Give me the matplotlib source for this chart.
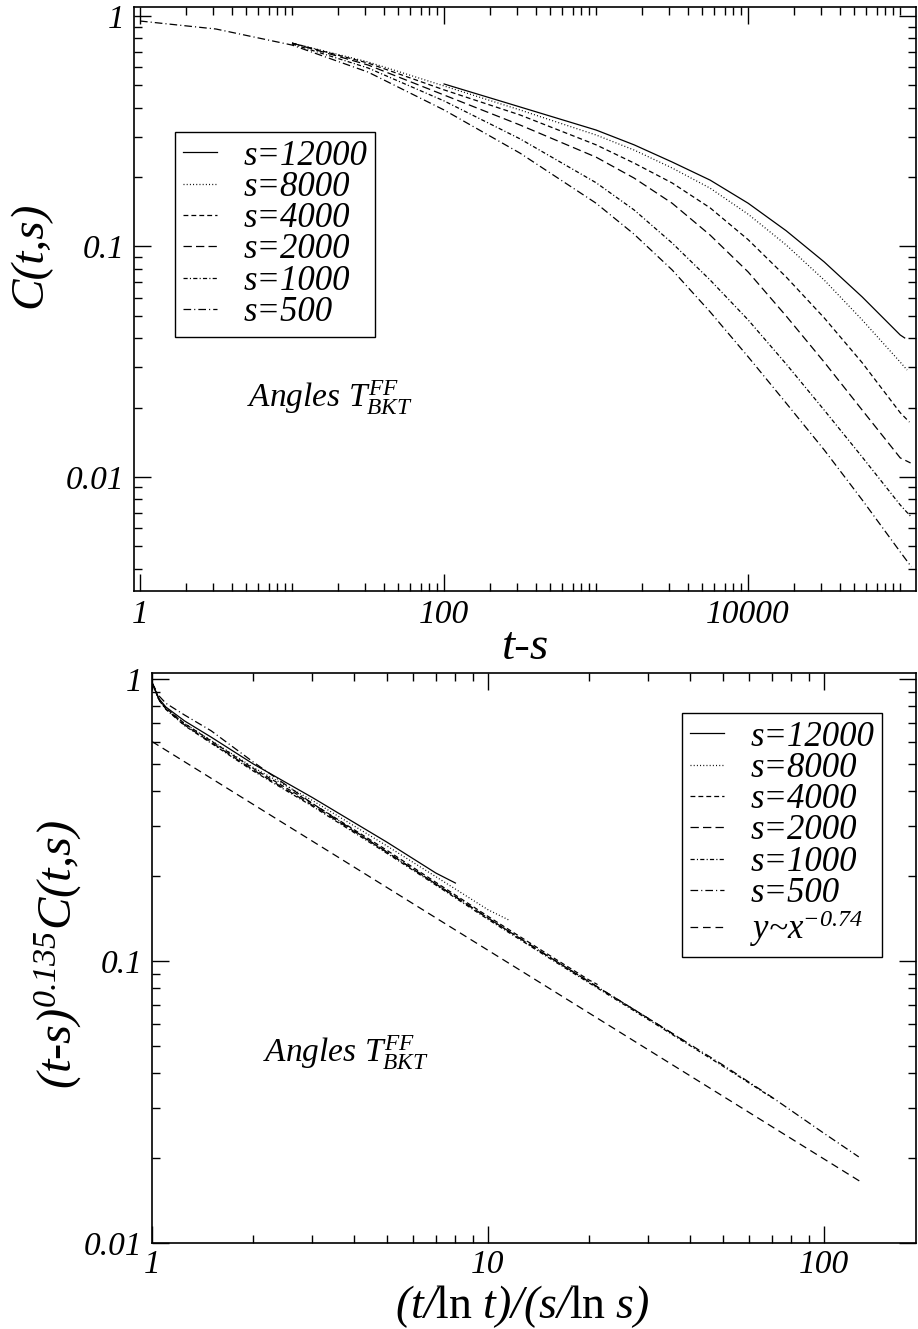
import numpy as np
import matplotlib
matplotlib.use('Agg')
import matplotlib.pyplot as plt
from matplotlib.ticker import FixedLocator, FuncFormatter, NullFormatter

plt.rcParams['font.family'] = ['Liberation Serif', 'DejaVu Serif']
plt.rcParams['font.style'] = 'italic'
plt.rcParams['mathtext.fontset'] = 'custom'
plt.rcParams['mathtext.it'] = 'Liberation Serif:style=italic'
plt.rcParams['mathtext.rm'] = 'Liberation Serif:style=italic'
# upright face only for "ln"
plt.rcParams['mathtext.sf'] = 'Liberation Serif:style=normal'
plt.rcParams['mathtext.default'] = 'it'
plt.rcParams['lines.scale_dashes'] = False

# ---- top panel: C(t,s) vs t-s ----
s_values = [12000, 8000, 4000, 2000, 1000, 500]

tms_500 = [1, 3.16, 10, 31.6, 100, 316, 1000, 1778, 3162, 5623, 10000, 17783, 31623, 56234, 100000, 118500]
c_500 = [0.951, 0.878, 0.748, 0.571, 0.391, 0.254, 0.154, 0.113, 0.0791, 0.052, 0.0332, 0.0209, 0.0131, 0.00795, 0.00473, 0.00407]

tms_mid = [10, 31.6, 100, 316, 1000, 1778, 3162, 5623, 10000, 17783, 31623, 56234, 100000]
c_1000 = [0.756, 0.595, 0.428, 0.293, 0.189, 0.144, 0.1035, 0.0715, 0.048, 0.0309, 0.0195, 0.0122, 0.00756, 0.00671]
c_2000 = [0.763, 0.613, 0.454, 0.3365, 0.244, 0.198, 0.154, 0.112, 0.0775, 0.0499, 0.0315, 0.0195, 0.0121, 0.0115]
c_4000 = [0.763, 0.625, 0.478, 0.372, 0.276, 0.230, 0.1886, 0.147, 0.107, 0.0737, 0.049, 0.0313, 0.019, 0.0173]
c_8000 = [0.763, 0.632, 0.497, 0.391, 0.3045, 0.262, 0.219, 0.179, 0.138, 0.1015, 0.0715, 0.048, 0.0315, 0.0291]
end_tms = {1000: 118000, 2000: 117000, 4000: 115000, 8000: 111000}

tms_12000 = [100, 316, 1000, 1778, 3162, 5623, 10000, 17783, 31623, 56234, 100000, 107000]
c_12000 = [0.507, 0.403, 0.320, 0.276, 0.2325, 0.194, 0.154, 0.117, 0.0857, 0.0604, 0.0413, 0.0401]

# ---- bottom panel: (t-s)^0.135 C(t,s) vs (t/ln t)/(s/ln s) ----
xs_grid = [1, 1.05, 1.1, 1.25, 1.5, 2, 3, 5, 7, 10, 15, 20, 30, 50, 70, 100]
sc_500 = [0.97, 0.87, 0.82, 0.745, 0.655, 0.508, 0.362, 0.2434, 0.1875, 0.142, 0.1045, 0.0844, 0.0626, 0.0428, 0.0329, 0.0245, 0.0202]
sc_1000 = [0.97, 0.84, 0.78, 0.683, 0.592, 0.472, 0.354, 0.241, 0.1858, 0.1405, 0.1035, 0.0836, 0.062, 0.0424, 0.0326]
sc_2000 = [0.97, 0.842, 0.783, 0.687, 0.596, 0.476, 0.357, 0.2434, 0.1875, 0.142, 0.1045, 0.0844, 0.0626, 0.0516]
sc_4000 = [0.97, 0.845, 0.788, 0.695, 0.603, 0.482, 0.362, 0.247, 0.190, 0.144, 0.106, 0.0856, 0.0825]
sc_8000 = [0.97, 0.845, 0.787, 0.695, 0.605, 0.486, 0.371, 0.256, 0.199, 0.152, 0.140]
sc_12000 = [0.97, 0.85, 0.795, 0.71, 0.622, 0.50, 0.38, 0.264, 0.205, 0.189]
end_xs = {500: 127, 1000: 70.5, 2000: 38.8, 4000: 21.2, 8000: 11.5, 12000: 8.0}

fit_amp = 0.6
fit_exp = -0.74
fit_x = [1, 130]

styles = {
    12000: '-',
    8000: (0, (0.7, 1.6)),
    4000: (0, (3.5, 2.2)),
    2000: (0, (6, 3)),
    1000: (0, (3, 1.6, 0.8, 1.6)),
    500: (0, (5.5, 2.2, 0.8, 2.2)),
}
fit_style = (0, (5.5, 3.5))

W, H = 918, 1329
fig = plt.figure(figsize=(W / 100, H / 100), dpi=100)


def px_axes(l, t, r, b):
    return fig.add_axes([l / W, 1 - b / H, (r - l) / W, (b - t) / H])


def style_axes(ax, xmajor, ymajor, xlim, ylim, xpad, ypad):
    ax.set_xscale('log')
    ax.set_yscale('log')
    ax.set_xlim(xlim)
    ax.set_ylim(ylim)
    fmt = FuncFormatter(lambda v, p: ('%g' % v))
    ax.xaxis.set_major_locator(FixedLocator(xmajor))
    ax.yaxis.set_major_locator(FixedLocator(ymajor))
    ax.xaxis.set_major_formatter(fmt)
    ax.yaxis.set_major_formatter(fmt)
    xminor = [m * 10.0 ** k for k in range(-1, 6) for m in range(1, 10)]
    yminor = [m * 10.0 ** k for k in range(-4, 1) for m in range(1, 10)]
    ax.xaxis.set_minor_locator(FixedLocator([v for v in xminor if v not in xmajor]))
    ax.yaxis.set_minor_locator(FixedLocator([v for v in yminor if v not in ymajor]))
    ax.xaxis.set_minor_formatter(NullFormatter())
    ax.yaxis.set_minor_formatter(NullFormatter())
    ax.tick_params(which='both', direction='in', top=True, right=True, width=1.0)
    ax.tick_params(which='major', length=12, labelsize=24)
    ax.tick_params(which='minor', length=6)
    ax.tick_params(axis='x', which='major', pad=xpad)
    ax.tick_params(axis='y', which='major', pad=ypad)
    for sp in ax.spines.values():
        sp.set_linewidth(1.2)


def make_legend(ax, left, top):
    leg = ax.legend(loc='upper left', bbox_to_anchor=(left / W, 1 - top / H),
                    bbox_transform=fig.transFigure, borderaxespad=0, fancybox=False,
                    edgecolor='black', framealpha=1, fontsize=25, handlelength=1.0,
                    handletextpad=0.75, labelspacing=-0.05, borderpad=0.22)
    leg.get_frame().set_linewidth(1.0)
    return leg


# top panel
ax1 = px_axes(134, 7, 916, 591)
top_data = {
    12000: (tms_12000, c_12000),
    8000: (tms_mid + [end_tms[8000]], c_8000),
    4000: (tms_mid + [end_tms[4000]], c_4000),
    2000: (tms_mid + [end_tms[2000]], c_2000),
    1000: (tms_mid + [end_tms[1000]], c_1000),
    500: (tms_500, c_500),
}
for s in s_values:
    x, y = top_data[s]
    ax1.plot(x, y, color='black', lw=0.9, linestyle=styles[s], label='s=%d' % s)
style_axes(ax1, [1, 100, 10000], [0.01, 0.1, 1], (0.913, 1.27e5), (0.0032, 1.094), 6, 7)
make_legend(ax1, 175, 132)

fig.text(30 / W, 1 - 255 / H, 'C(t,s)', rotation=90, ha='center', va='center', fontsize=34)
fig.text(526 / W, 1 - 648 / H, 't-s', ha='center', va='center', fontsize=34)
fig.text(247 / W, 1 - 407 / H, r'Angles $T_{BKT}^{FF}$', ha='left', va='baseline', fontsize=24)

# bottom panel
ax2 = px_axes(152, 673, 916, 1243)
bot_data = {
    12000: sc_12000, 8000: sc_8000, 4000: sc_4000,
    2000: sc_2000, 1000: sc_1000, 500: sc_500,
}
for s in s_values:
    y = bot_data[s]
    x = xs_grid[:len(y) - 1] + [end_xs[s]]
    ax2.plot(x, y, color='black', lw=0.9, linestyle=styles[s], label='s=%d' % s)
fx = np.array(fit_x, dtype=float)
ax2.plot(fx, fit_amp * fx ** fit_exp, color='black', lw=0.9, linestyle=fit_style,
         label=r'y~x$^{-0.74}$')
style_axes(ax2, [1, 10, 100], [0.01, 0.1, 1], (1, 188), (0.01, 1.05), 5, 7)
make_legend(ax2, 682, 713)

fig.text(58 / W, 1 - 955 / H, r'(t-s)$^{0.135}$C(t,s)', rotation=90, ha='center', va='center', fontsize=35)
fig.text(522 / W, 1 - 1307 / H, r'$(t/\mathsf{ln}\ t)/(s/\mathsf{ln}\ s)$',
         ha='center', va='center', fontsize=33)
fig.text(263 / W, 1 - 1062 / H, r'Angles $T_{BKT}^{FF}$', ha='left', va='baseline', fontsize=24)

fig.savefig('out.png', dpi=100)
